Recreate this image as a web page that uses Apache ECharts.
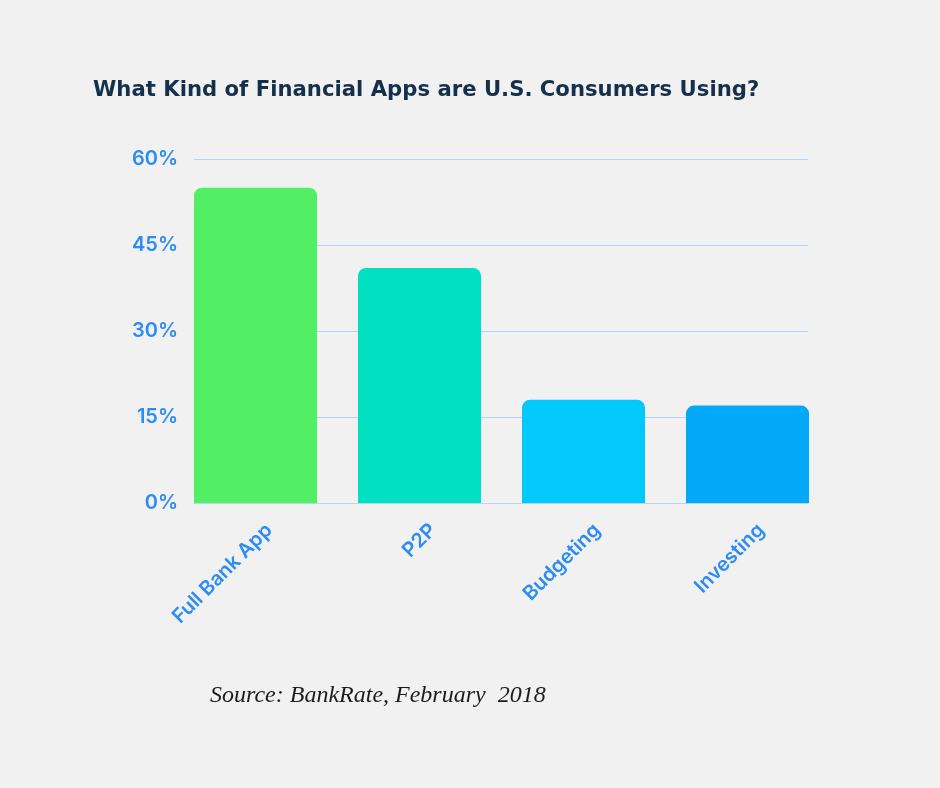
<!DOCTYPE html>
<html>
<head>
<meta charset="utf-8">
<script src="https://cdn.jsdelivr.net/npm/echarts@6/dist/echarts.min.js"></script>
<style>
  html, body { margin: 0; padding: 0; background: #f1f1f1; }
  #main { width: 940px; height: 788px; }
</style>
</head>
<body>
<div id="main"></div>
<script>
const categories = ['Full Bank App', 'P2P', 'Budgeting', 'Investing']
const shares = [55, 41, 18, 17]
const barColors = ['#52ee63', '#02e0c2', '#03c8fb', '#02a9f8']
const yTicks = [0, 15, 30, 45, 60]

const blue = '#2c8cf4'
const font = 'Inter'
const lineBlue = '#b8d4f2'

const chart = echarts.init(document.getElementById('main'))

chart.setOption({
  backgroundColor: '#f1f1f1',
  animation: false,
  title: [{
    text: 'What Kind of Financial Apps are U.S. Consumers Using?',
    left: 88, top: 75,
    textStyle: { fontFamily: 'DejaVu Sans', fontWeight: 'bold', fontSize: 21.2, color: '#15304a' }
  }, {
    text: 'Source: BankRate, February  2018',
    left: 205, top: 679,
    textStyle: { fontFamily: 'Liberation Serif', fontStyle: 'italic', fontWeight: 'normal', fontSize: 24, color: '#1c1c1c' }
  }],
  grid: [
    // bars
    { left: 173.5, width: 656, top: 159, height: 344 },
    // gridlines + y labels
    { left: 194, width: 614, top: 159, height: 344 },
    // rotated category labels
    { left: 187, width: 656, top: 159, height: 344 }
  ],
  xAxis: [
    { gridIndex: 0, type: 'category', data: categories, show: false },
    { gridIndex: 1, type: 'category', data: categories,
      axisLine: { lineStyle: { color: lineBlue } },
      axisTick: { show: false }, axisLabel: { show: false } },
    { gridIndex: 2, type: 'category', data: categories,
      axisLine: { show: false }, axisTick: { show: false },
      axisLabel: { rotate: 45, margin: 24, color: blue, fontFamily: font, fontWeight: 600, fontSize: 20 } }
  ],
  yAxis: [
    { gridIndex: 0, type: 'value', min: 0, max: 60, interval: 15, show: false },
    { gridIndex: 1, type: 'value', min: yTicks[0], max: yTicks[yTicks.length - 1], interval: 15,
      axisLine: { show: false }, axisTick: { show: false },
      splitLine: { lineStyle: { color: lineBlue, width: 1 } },
      axisLabel: { margin: 16, color: blue, fontFamily: font, fontWeight: 600, fontSize: 20,
        formatter: v => v + '%' } },
    { gridIndex: 2, type: 'value', min: 0, max: 60, show: false }
  ],
  series: [{
    type: 'bar',
    xAxisIndex: 0, yAxisIndex: 0,
    barWidth: 123,
    z: 3,
    data: shares.map((v, i) => ({
      value: v,
      itemStyle: { color: barColors[i], borderRadius: [8, 8, 0, 0] }
    }))
  }]
})
</script>
</body>
</html>
